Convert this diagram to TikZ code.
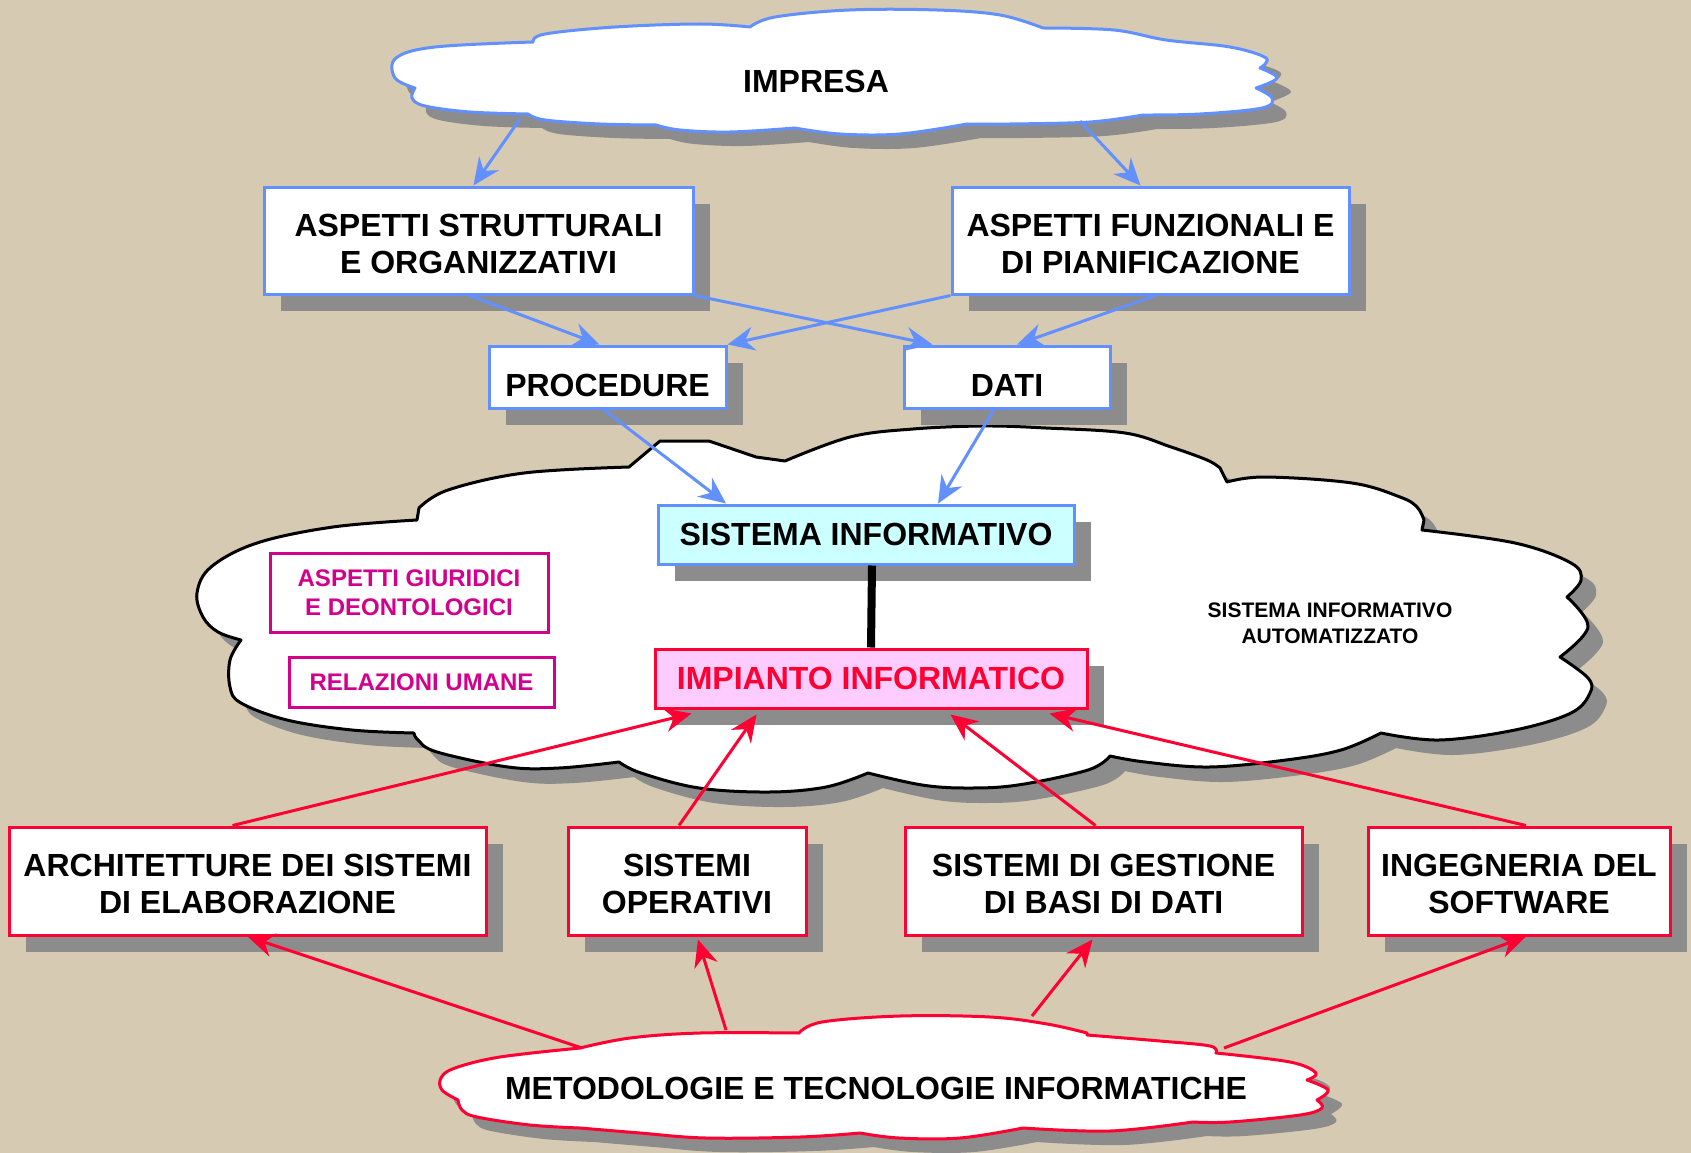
\documentclass[tikz,border=0pt]{standalone}
\usepackage{fontspec}
\setmainfont{Liberation Sans}
\usetikzlibrary{arrows.meta,shadows}
\definecolor{bg}{RGB}{214,202,178}
\definecolor{bluel}{RGB}{98,145,255}
\definecolor{redl}{RGB}{255,0,51}
\definecolor{mag}{RGB}{210,0,140}
\definecolor{shad}{RGB}{140,140,140}
\definecolor{cyanf}{RGB}{204,255,255}
\definecolor{pinkf}{RGB}{255,204,255}

\newcommand{\tworaise}{\rule{0pt}{29pt}}
\newcommand{\oneraise}{\rule{0pt}{39pt}}

\def\impresacloud{(415,88)
 -- plot[smooth,tension=0.6] coordinates {(415,88) (395,78) (396,58) (435,47) (533,42)}
 -- plot[smooth,tension=0.6] coordinates {(533,42) (545,34) (615,27) (700,24) (750,27)}
 -- plot[smooth,tension=0.6] coordinates {(750,27) (775,17) (849,10) (937,10) (1000,15) (1043,28)}
 -- plot[smooth,tension=0.6] coordinates {(1043,28) (1114,30) (1166,40) (1230,47) (1266,58) (1260,68)}
 -- plot[smooth,tension=0.6] coordinates {(1260,68) (1277,78) (1256,88)}
 -- plot[smooth,tension=0.6] coordinates {(1256,88) (1272,98) (1262,108) (1200,114) (1143,115)}
 -- plot[smooth,tension=0.6] coordinates {(1143,115) (1090,122) (1010,124) (967,124)}
 -- plot[smooth,tension=0.6] coordinates {(967,124) (900,134) (840,134) (795,128)}
 -- plot[smooth,tension=0.6] coordinates {(795,128) (730,132) (680,130) (656,125)}
 -- plot[smooth,tension=0.6] coordinates {(656,125) (600,124) (545,120) (528,114)}
 -- plot[smooth,tension=0.6] coordinates {(528,114) (470,112) (425,106) (412,98) (415,88)}
 -- cycle}

\def\bigcloud{(629,467) -- (660,441) -- (709,441) -- (756,457) -- (785,461)
 -- plot[smooth,tension=0.6] coordinates {(785,461) (850,437) (913,429) (984,426) (1046,428) (1125,433) (1171,447) (1207,460) (1220,468)}
 -- (1227,482)
 -- plot[smooth,tension=0.6] coordinates {(1227,482) (1265,477) (1352,483) (1400,497) (1417,507) (1424,520)}
 -- (1422,530)
 -- plot[smooth,tension=0.6] coordinates {(1422,530) (1515,543) (1571,563) (1581,580) (1567,597)}
 -- plot[smooth,tension=0.6] coordinates {(1567,597) (1588,627) (1560,657)}
 -- plot[smooth,tension=0.6] coordinates {(1560,657) (1588,678) (1590,693) (1571,713) (1515,730) (1439,740) (1381,733)}
 -- plot[smooth,tension=0.6] coordinates {(1381,733) (1341,750) (1286,760) (1209,767) (1145,762) (1110,756)}
 -- plot[smooth,tension=0.6] coordinates {(1110,756) (1088,770) (1018,785) (967,788) (922,785) (868,773)}
 -- plot[smooth,tension=0.6] coordinates {(868,773) (826,787) (769,792) (699,788) (641,773) (619,762)}
 -- plot[smooth,tension=0.6] coordinates {(619,762) (559,768) (508,767) (437,752) (418,740) (414,733)}
 -- plot[smooth,tension=0.6] coordinates {(414,733) (352,730) (287,720) (241,703) (230,687) (230,660) (241,640)}
 -- plot[smooth,tension=0.6] coordinates {(241,640) (218,632) (203,617) (197,593) (211,567) (257,543) (333,527) (417,520)}
 -- (419,508)
 -- plot[smooth,tension=0.6] coordinates {(419,508) (448,490) (524,473) (629,467)}
 -- cycle}

\def\metocloud{(580,1048)
 -- plot[smooth,tension=0.6] coordinates {(580,1048) (630,1038) (700,1033) (799,1033)}
 -- plot[smooth,tension=0.6] coordinates {(799,1033) (822,1022) (900,1016) (990,1017) (1047,1024) (1087,1033)}
 -- plot[smooth,tension=0.6] coordinates {(1087,1035) (1160,1041) (1210,1046) (1216,1053)}
 -- plot[smooth,tension=0.6] coordinates {(1216,1053) (1290,1062) (1316,1073) (1307,1080)}
 -- plot[smooth,tension=0.6] coordinates {(1307,1080) (1328,1090) (1317,1100)}
 -- plot[smooth,tension=0.6] coordinates {(1317,1100) (1322,1108) (1300,1115) (1230,1122) (1193,1122)}
 -- plot[smooth,tension=0.6] coordinates {(1193,1122) (1110,1131) (1023,1128)}
 -- plot[smooth,tension=0.6] coordinates {(1023,1128) (960,1138) (899,1138) (860,1133)}
 -- plot[smooth,tension=0.6] coordinates {(860,1133) (800,1137) (706,1138) (640,1133) (580,1128)}
 -- plot[smooth,tension=0.6] coordinates {(580,1128) (530,1125) (477,1117) (462,1110) (458,1100)}
 -- plot[smooth,tension=0.6] coordinates {(458,1100) (442,1090) (441,1078) (455,1068) (500,1057) (580,1048)}
 -- cycle}

\begin{document}
\begin{tikzpicture}[x=1pt,y=-1pt,
  bigtxt/.style={font=\bfseries\fontsize{32}{37}\selectfont, align=center},
  box/.style={draw, line width=3pt, fill=white, inner sep=0pt, bigtxt},
  sh/.style={drop shadow={shadow xshift=17pt, shadow yshift=-17pt, fill=shad, opacity=1}},
  bluebox/.style={box, sh, draw=bluel},
  redbox/.style={box, sh, draw=redl},
  magbox/.style={draw=mag, line width=3pt, fill=white, inner sep=0pt, text=mag,
     font=\bfseries\fontsize{24}{29}\selectfont, align=center},
  barrow/.style={draw=bluel, line width=3pt, -{Stealth[length=27pt,width=24pt,inset=9pt]}},
  rarrow/.style={draw=redl, line width=3pt, -{Stealth[length=27pt,width=24pt,inset=9pt]}},
]
% background
\fill[bg] (0,0) rectangle (1691,1153);
\useasboundingbox (0,0) rectangle (1691,1153);

% clouds
\fill[shad, shift={(14,14)}] \impresacloud;
\filldraw[fill=white, draw=bluel, line width=3pt, line join=round] \impresacloud;
\node[bigtxt] (impresa) at (816,81) {IMPRESA};

\fill[shad, shift={(15,15)}] \bigcloud;
\filldraw[fill=white, draw=black, line width=3pt, line join=round] \bigcloud;
\node[font=\bfseries\fontsize{21}{26}\selectfont, align=center] (sia) at (1330,623) {SISTEMA INFORMATIVO\\AUTOMATIZZATO};

\fill[shad, shift={(14,14)}] \metocloud;
\filldraw[fill=white, draw=redl, line width=3pt, line join=round] \metocloud;
\node[bigtxt] (meto) at (876,1088) {METODOLOGIE E TECNOLOGIE INFORMATICHE};

% boxes
\node[bluebox, minimum width=429pt, minimum height=107pt] (asp1) at (478.5,240.5) {\tworaise ASPETTI STRUTTURALI\\E ORGANIZZATIVI};
\node[bluebox, minimum width=397pt, minimum height=107pt] (asp2) at (1150.5,240.5) {\tworaise ASPETTI FUNZIONALI E\\DI PIANIFICAZIONE};
\node[bluebox, minimum width=237pt, minimum height=62pt] (proc) at (607.5,377) {\oneraise PROCEDURE};
\node[bluebox, minimum width=206pt, minimum height=62pt] (dati) at (1007,377) {\oneraise DATI};
\node[bluebox, fill=cyanf, minimum width=416pt, minimum height=59pt] (si) at (866,534.5) {SISTEMA INFORMATIVO};
\node[redbox, fill=pinkf, text=redl, minimum width=432pt, minimum height=59pt] (imp) at (871,678.5) {IMPIANTO INFORMATICO};

\node[magbox, minimum width=278pt, minimum height=79pt] (giur) at (409,592.5) {ASPETTI GIURIDICI\\E DEONTOLOGICI};
\node[magbox, minimum width=265pt, minimum height=50pt] (rel) at (421.5,682) {RELAZIONI UMANE};

\node[redbox, minimum width=477pt, minimum height=108pt] (arch) at (247.5,881) {\tworaise ARCHITETTURE DEI SISTEMI\\DI ELABORAZIONE};
\node[redbox, minimum width=238pt, minimum height=108pt] (sop) at (687,881) {\tworaise SISTEMI\\OPERATIVI};
\node[redbox, minimum width=397pt, minimum height=108pt] (sgest) at (1103.5,881) {\tworaise SISTEMI DI GESTIONE\\DI BASI DI DATI};
\node[redbox, minimum width=302pt, minimum height=108pt] (ing) at (1519,881) {\tworaise INGEGNERIA DEL\\SOFTWARE};

% named cloud-edge coordinates
\coordinate (impL) at (520,119);
\coordinate (impR) at (1080,121);
\coordinate (metA) at (582,1048);
\coordinate (metB) at (726,1030);
\coordinate (metC) at (1032,1016);
\coordinate (metD) at (1224,1048);

% connectors blue
\draw[barrow] (impL) -- ([xshift=-5pt]asp1.north);
\draw[barrow] (impR) -- ([xshift=-10pt]asp2.north);
\draw[barrow] ([xshift=-9pt]asp1.south) -- ([xshift=-8pt]proc.north);
\draw[barrow] (asp1.south east) -- ([xshift=30pt]dati.north west);
\draw[barrow] (asp2.south west) -- (proc.north east);
\draw[barrow] ([xshift=5pt]asp2.south) -- ([xshift=10pt]dati.north);
\draw[barrow] ([xshift=-4pt]proc.south) -- ([xshift=-140pt]si.north);
\draw[barrow] ([xshift=-13pt]dati.south) -- ([xshift=72pt]si.north);

% thick link
\draw[line width=8pt] ([xshift=6pt]si.south) -- (imp.north);

% connectors red
\draw[rarrow] ([xshift=-15pt]arch.north) -- ([xshift=38pt,yshift=-4pt]imp.south west);
\draw[rarrow] ([xshift=-8pt]sop.north) -- ([xshift=103pt,yshift=-5pt]imp.south west);
\draw[rarrow] ([xshift=-8pt]sgest.north) -- ([xshift=297pt,yshift=-5pt]imp.south west);
\draw[rarrow] ([xshift=7pt]ing.north) -- ([xshift=-39pt,yshift=-4pt]imp.south east);
\draw[rarrow] (metA) -- (arch.south);
\draw[rarrow] (metB) -- ([xshift=11pt,yshift=-3pt]sop.south);
\draw[rarrow] (metC) -- ([xshift=-11pt,yshift=-3pt]sgest.south);
\draw[rarrow] (metD) -- ([xshift=7pt]ing.south);
\end{tikzpicture}
\end{document}
